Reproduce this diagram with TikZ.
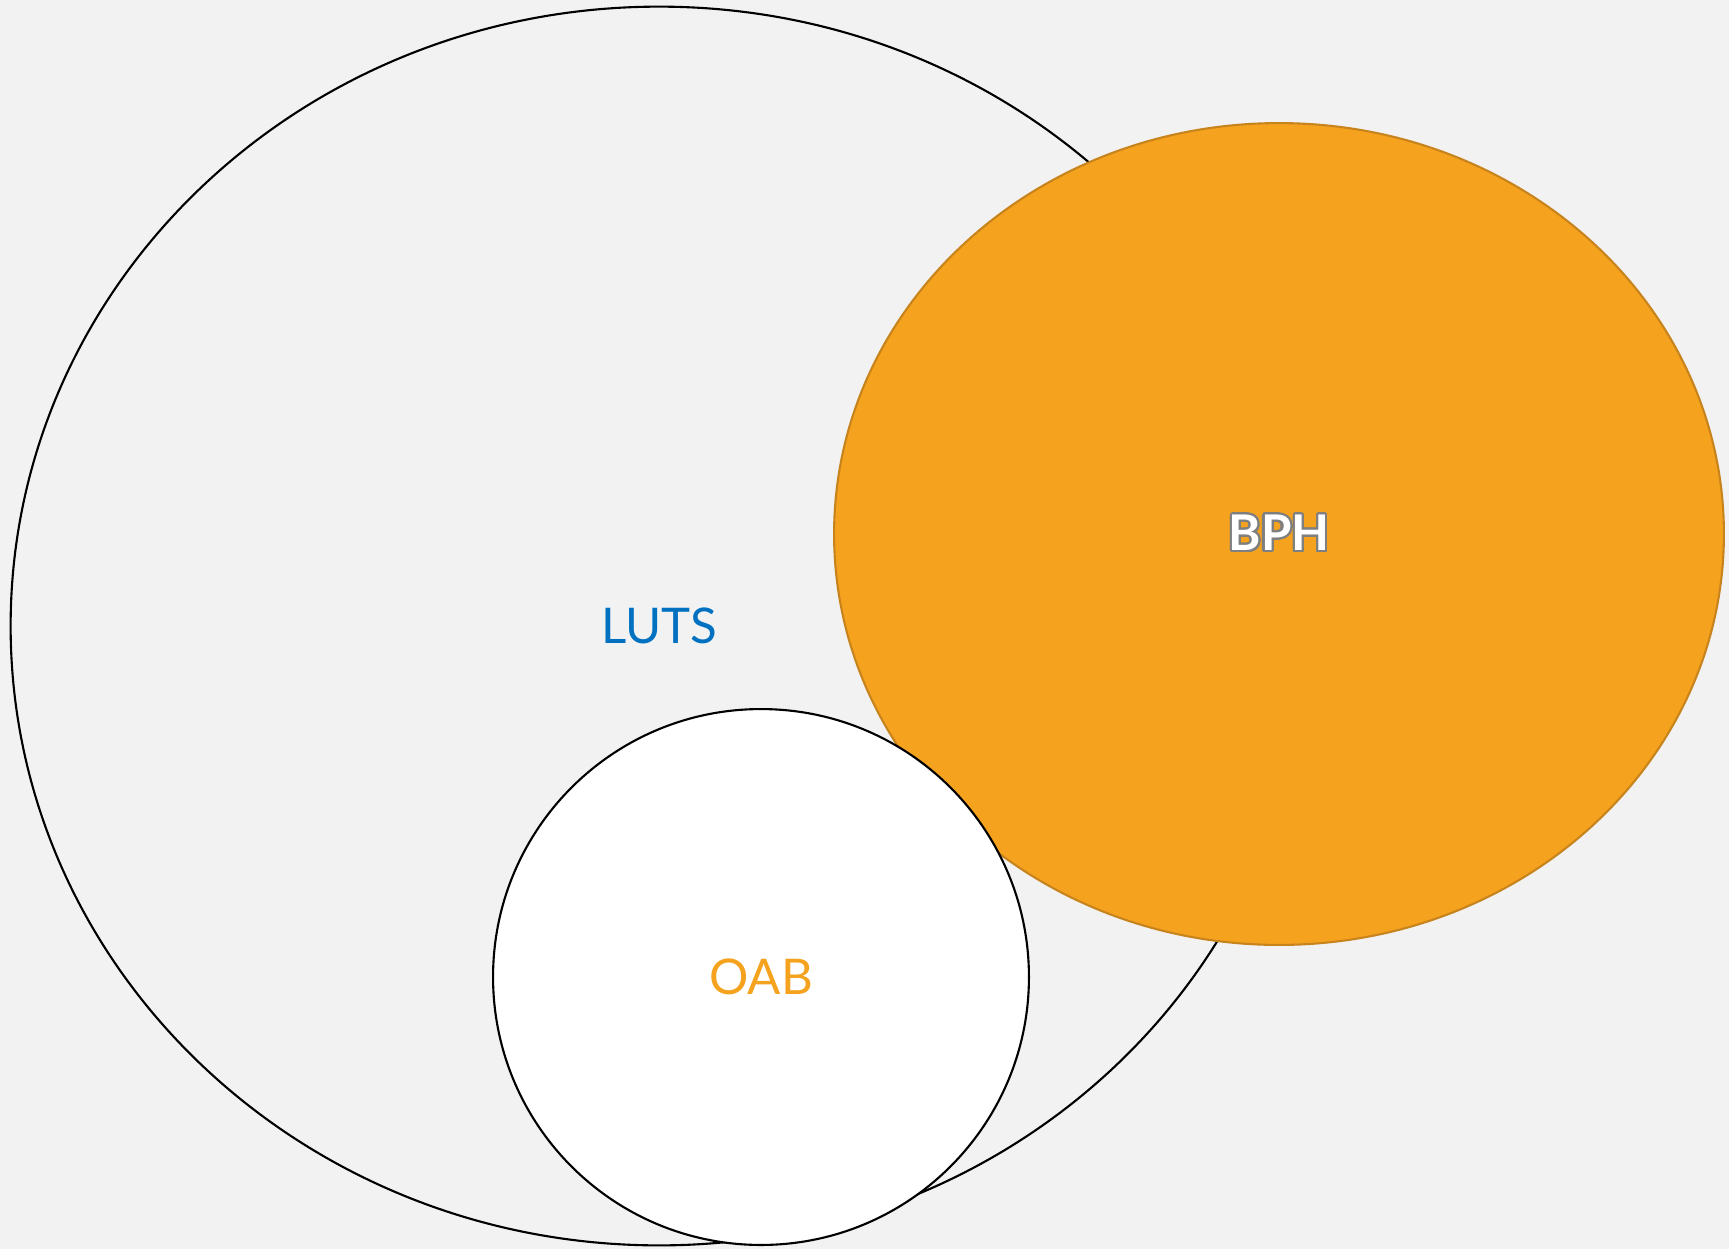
\documentclass[tikz,border=0pt]{standalone}
\usepackage{xcolor}
\usepackage{fontspec}
\setmainfont{Lato}
\usepackage{contour}
\usepackage{tikz}
\usetikzlibrary{shapes,backgrounds}
\definecolor{bgrey}{HTML}{F2F2F2}
\definecolor{lutsblue}{HTML}{0070C0}
\definecolor{bphorange}{HTML}{F5A31E}
\definecolor{bphedge}{HTML}{C8841C}
\definecolor{bphshade}{HTML}{7F7F7F}
\tikzstyle{setblk}=[ellipse, draw=black, line width=1.2pt, inner sep=0pt,% one set of the diagram
font=\fontsize{28}{30}\selectfont]
\tikzstyle{bphblk}=[setblk, draw=bphedge, fill=bphorange, font=\fontsize{28}{30}\selectfont\bfseries]
\contourlength{1.3pt}
\contournumber{24}

\begin{document}
\begin{tikzpicture}[x=0.02cm,y=-0.02cm]

\fill[bgrey] (0,0) rectangle (1729,1249);
\useasboundingbox (0,0) rectangle (1729,1249);

\node[setblk, fill=bgrey, text=lutsblue, minimum width=25.94cm, minimum height=24.78cm] (luts) at (659,626) {LUTS};
\node[bphblk, minimum width=17.8cm, minimum height=16.44cm] (bph) at (1279,534) {\contour{bphshade}{\color{white}BPH}};
\node[setblk, circle, fill=white, text=bphorange, minimum size=10.72cm] (oab) at (761,977) {OAB};

\end{tikzpicture}
\end{document}
